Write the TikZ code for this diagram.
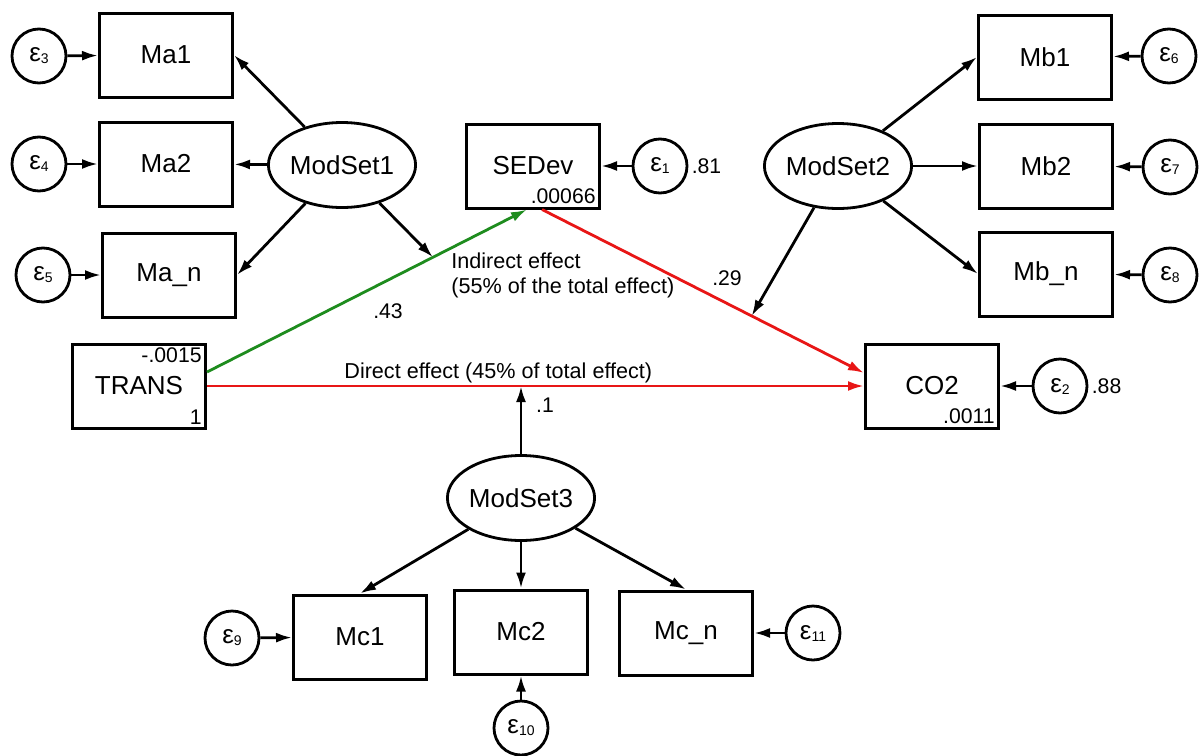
\documentclass[tikz,border=0pt]{standalone}
\usepackage{fontspec}
\setmainfont{Liberation Sans}
\usepackage{tikz}
\usetikzlibrary{arrows.meta,shapes.geometric,calc}
\definecolor{effred}{RGB}{232,22,22}
\definecolor{effgreen}{RGB}{30,140,30}
\newcommand{\eps}[1]{ε\raisebox{-1pt}{\fontsize{7}{8}\selectfont #1}}
\tikzset{
	obs/.style={draw,line width=1.5pt,minimum width=66.5pt,minimum height=42pt,inner sep=0pt,font=\fontsize{13}{15}\selectfont},
	latent/.style={draw,ellipse,line width=1.4pt,minimum width=67.5pt,minimum height=42.5pt,inner sep=0pt,font=\fontsize{13}{15}\selectfont},
	err/.style={draw,circle,line width=1.4pt,minimum size=27pt,inner sep=0pt,font=\fontsize{13}{15}\selectfont},
	arr/.style={-{Latex[length=8pt,width=5pt]},line width=1.4pt},
	num/.style={font=\fontsize{10.6}{12}\selectfont,inner sep=1.5pt},
	innum/.style={num,inner sep=2.5pt},
	note/.style={font=\fontsize{10.8}{12.5}\selectfont,inner sep=0pt}
}
\begin{document}
\begin{tikzpicture}[x=0.5pt,y=-0.5pt]
	\useasboundingbox (0,0) rectangle (1203,755);
	% first moderator set
	\node (ma1) at (166,55)[obs] {Ma1};
	\node (ma2) at (166,164)[obs] {Ma2};
	\node (man) at (169,275)[obs] {Ma\_n};
	\node (e3) at (39,56)[err] {\eps{3}};
	\node (e4) at (39,164)[err] {\eps{4}};
	\node (e5) at (43,275)[err] {\eps{5}};
	\node (ms1) at (342,165)[latent] {ModSet1};
	% mediator and outcome
	\node (sedev) at (533,166)[obs,label={[innum,anchor=south east]south east:.00066}] {SEDev};
	\node (e1) at (660,166)[err,label={[num]right:.81}] {\eps{1}};
	\node (trans) at (139,386)[obs,label={[innum,anchor=north east]north east:-.0015},label={[innum,anchor=south east]south east:1}] {TRANS};
	\node (co2) at (932,386)[obs,label={[innum,anchor=south east]south east:.0011}] {CO2};
	\node (e2) at (1060,386)[err,label={[num]right:.88}] {\eps{2}};
	% second moderator set
	\node (ms2) at (838,166)[latent] {ModSet2};
	\node (mb1) at (1045,57)[obs] {Mb1};
	\node (mb2) at (1046,166)[obs] {Mb2};
	\node (mbn) at (1046,274)[obs] {Mb\_n};
	\node (e6) at (1169,56)[err] {\eps{6}};
	\node (e7) at (1170,167)[err] {\eps{7}};
	\node (e8) at (1170,275)[err] {\eps{8}};
	% third moderator set
	\node (ms3) at (521,498)[latent] {ModSet3};
	\node (mc1) at (360,637)[obs] {Mc1};
	\node (mc2) at (521,632)[obs] {Mc2};
	\node (mcn) at (686,633)[obs] {Mc\_n};
	\node (e9) at (232,638)[err] {\eps{9}};
	\node (e10) at (521,728)[err] {\eps{10}};
	\node (e11) at (813,633)[err] {\eps{11}};
	% effects
	\draw[arr,effgreen] ([yshift=7pt]trans.east)--coordinate[pos=.706] (onind) ([xshift=-3pt]sedev.south);
	\draw[arr,effred] ([xshift=4.5pt]sedev.south)--coordinate[pos=.651] (onred) ([yshift=6.5pt]co2.west);
	\draw[arr,effred] (trans)--(co2);
	\node (indlab) at (451,275)[note,anchor=west,align=left] {Indirect effect\\(55\% of the total effect)};
	\node (dirlab) at (344,373)[note,anchor=west] {Direct effect (45\% of total effect)};
	\node (c43) at (388,311)[num] {.43};
	\node (c29) at (727,278)[num] {.29};
	\node (c1) at (545,405)[num] {.1};
	% moderator paths
	\draw[arr] (ms1)--(ma1.east);
	\draw[arr] (ms1)--(ma2);
	\draw[arr] (ms1)--(man.east);
	\draw[arr] (ms1)--(onind);
	\draw[arr] (ms2)--(mb1.west);
	\draw[arr] (ms2)--(mb2);
	\draw[arr] (ms2)--(mbn.west);
	\draw[arr] (ms2)--(onred);
	\draw[arr] (ms3)--(ms3 |- trans.east);
	\draw[arr] (ms3)--(mc1.north);
	\draw[arr] (ms3)--(mc2);
	\draw[arr] (ms3)--(mcn.north);
	% error terms
	\draw[arr] (e1)--(sedev);
	\draw[arr] (e2)--(co2);
	\draw[arr] (e3)--(ma1);
	\draw[arr] (e4)--(ma2);
	\draw[arr] (e5)--(man);
	\draw[arr] (e6)--(mb1);
	\draw[arr] (e7)--(mb2);
	\draw[arr] (e8)--(mbn);
	\draw[arr] (e9)--(mc1);
	\draw[arr] (e10)--(mc2);
	\draw[arr] (e11)--(mcn);
\end{tikzpicture}
\end{document}
